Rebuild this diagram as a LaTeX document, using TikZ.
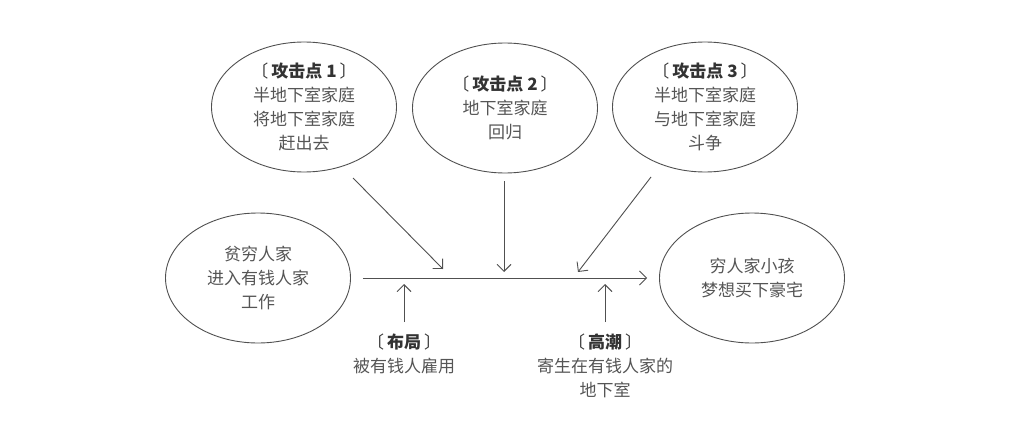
\documentclass[tikz,border=0pt]{standalone}
\usepackage{fontspec}
\newfontfamily\cjk{Noto Sans CJK SC}
\usetikzlibrary{arrows.meta,shapes.geometric}
\definecolor{txt}{HTML}{555555}
\definecolor{hdr}{HTML}{333333}
\definecolor{ln}{HTML}{505050}
\tikzset{
  oval/.style={ellipse, draw=ln, line width=0.9pt, minimum width=185pt, minimum height=130pt, inner sep=0pt,
    align=center, text=txt, font=\cjk\fontsize{17}{24}\selectfont},
  lbl/.style={align=center, text=txt, font=\cjk\fontsize{17}{24}\selectfont, inner sep=0pt},
  arr/.style={draw=ln, line width=0.9pt, -{Straight Barb[length=7pt,width=14pt]}},
}
\newcommand{\hd}[1]{{\color{hdr}〔\hspace{3pt}{\bfseries #1}\hspace{3pt}〕}}
\begin{document}
\begin{tikzpicture}[x=1pt,y=-1pt]
\useasboundingbox[fill=white] (0,0) rectangle (1012,431);
\node[oval] (a1) at (304,107) {\hd{攻击点 1}\\半地下室家庭\\将地下室家庭\\赶出去};
\node[oval] (a2) at (505,108) {\hd{攻击点 2}\\地下室家庭\\回归};
\node[oval] (a3) at (705,107) {\hd{攻击点 3}\\半地下室家庭\\与地下室家庭\\斗争};
\node[oval] (L) at (258,278) {贫穷人家\\进入有钱人家\\工作};
\node[oval] (R) at (752,278) {穷人家小孩\\梦想买下豪宅};
\node[lbl, anchor=north] (b1) at (404,334) {\hd{布局}\\被有钱人雇用};
\node[lbl, anchor=north] (b2) at (605,334) {\hd{高潮}\\寄生在有钱人家的\\地下室};
\coordinate (s1) at (353,178);
\coordinate (t1) at (443,269);
\coordinate (s2) at (504,181);
\coordinate (t2) at (504,272);
\coordinate (s3) at (651,177);
\coordinate (t3) at (578,272);
\coordinate (u1) at (404,284);
\coordinate (u2) at (605,284);
\draw[arr, shorten <=12pt, shorten >=12pt] (L.east) -- (R.west);
\draw[arr] (s1) -- (t1);
\draw[arr] (s2) -- (t2);
\draw[arr] (s3) -- (t3);
\draw[arr, shorten <=12pt] (b1.north) -- (u1);
\draw[arr, shorten <=12pt] (b2.north) -- (u2);
\end{tikzpicture}
\end{document}
